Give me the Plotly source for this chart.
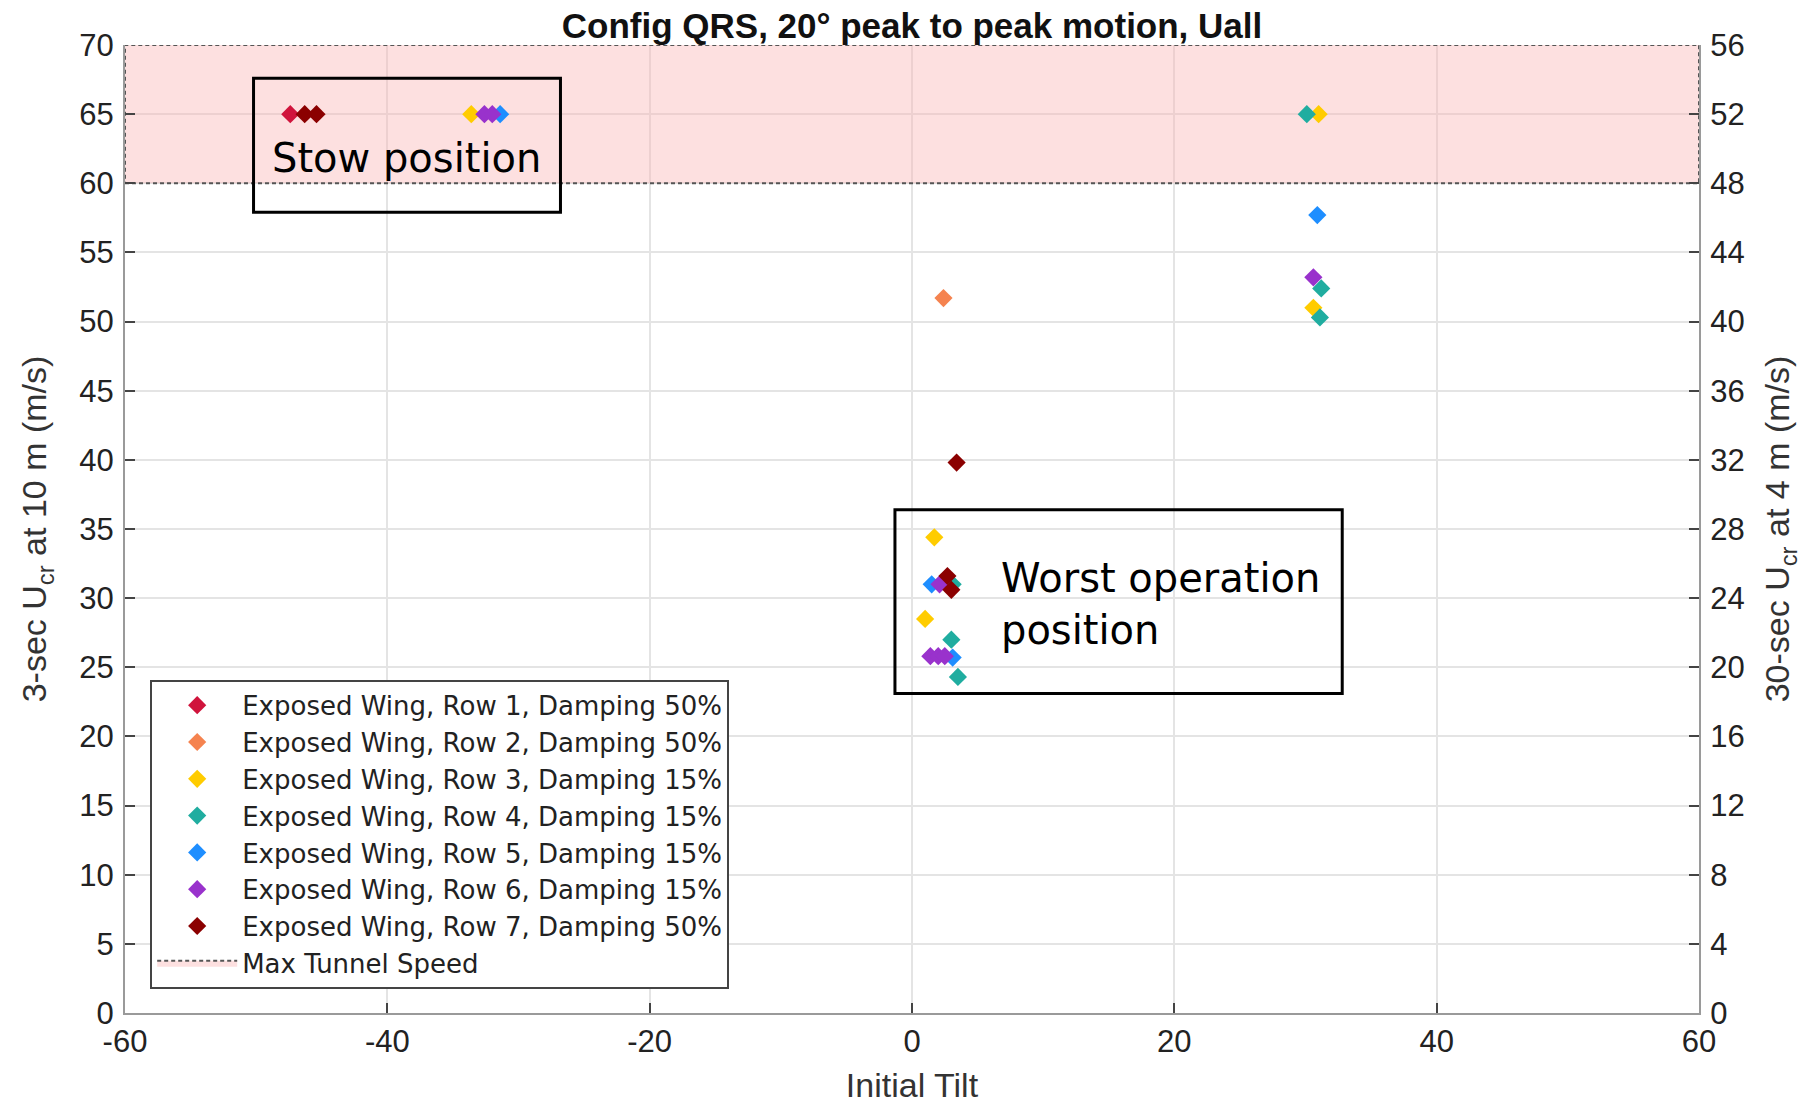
import plotly.graph_objects as go

# Critical-speed results per exposed-wing row: initial tilt (deg) and 3-sec U_cr at 10 m (m/s)
row_names = [
    "Exposed Wing, Row 1, Damping 50%",
    "Exposed Wing, Row 2, Damping 50%",
    "Exposed Wing, Row 3, Damping 15%",
    "Exposed Wing, Row 4, Damping 15%",
    "Exposed Wing, Row 5, Damping 15%",
    "Exposed Wing, Row 6, Damping 15%",
    "Exposed Wing, Row 7, Damping 50%",
]
row_colors = ["#D0143C", "#F5834F", "#FFCC00", "#20ADA0", "#1E8EFF", "#9932CC", "#8B0000"]

row1_tilt = [-47.4, 2.7]
row1_ucr = [65.0, 31.2]
row2_tilt = [2.4]
row2_ucr = [51.7]
row3_tilt = [-33.6, 31.0, 30.6, 1.7, 1.0]
row3_ucr = [65.0, 65.0, 51.0, 34.4, 28.5]
row4_tilt = [30.1, 31.2, 31.1, 3.1, 3.0, 3.5]
row4_ucr = [65.0, 52.4, 50.3, 31.0, 27.0, 24.3]
row5_tilt = [-31.4, 30.9, 1.5, 3.1]
row5_ucr = [65.0, 57.7, 31.0, 25.7]
row6_tilt = [-32.6, -32.0, 30.6, 2.1, 1.4, 2.0, 2.5]
row6_ucr = [65.0, 65.0, 53.2, 31.0, 25.8, 25.8, 25.8]
row7_tilt = [-46.3, -45.4, 3.4, 2.7, 3.0]
row7_ucr = [65.0, 65.0, 39.8, 31.6, 30.6]

tilts = [row1_tilt, row2_tilt, row3_tilt, row4_tilt, row5_tilt, row6_tilt, row7_tilt]
ucrs = [row1_ucr, row2_ucr, row3_ucr, row4_ucr, row5_ucr, row6_ucr, row7_ucr]

# Wind-tunnel speed limit band (left-axis units)
tunnel_low = 60
tunnel_high = 70
tilt_min, tilt_max = -60, 60

x_ticks = [-60, -40, -20, 0, 20, 40, 60]
y_left_ticks = list(range(0, 71, 5))
y_right_ticks = list(range(0, 57, 4))

sans = "Liberation Sans, Arial, sans-serif"
tick_font = dict(family=sans, size=31, color="#222222")
axis_title_font = dict(family=sans, size=34, color="#333333")
box_font = dict(family="DejaVu Sans, Verdana, sans-serif", size=40, color="#000000")

fig = go.Figure()

# Max tunnel speed band
fig.add_trace(go.Scatter(
    x=[tilt_min, tilt_max, tilt_max, tilt_min, tilt_min],
    y=[tunnel_low, tunnel_low, tunnel_high, tunnel_high, tunnel_low],
    mode="lines",
    fill="toself",
    fillcolor="rgba(250,180,180,0.42)",
    line=dict(color="#555555", width=2, dash="4px,3px"),
    name="Max Tunnel Speed",
    legendrank=2000,
    hoverinfo="skip",
))

for i in range(len(row_names)):
    fig.add_trace(go.Scatter(
        x=tilts[i], y=ucrs[i],
        mode="markers",
        marker=dict(symbol="diamond", size=14, color=row_colors[i], line=dict(width=0)),
        name=row_names[i],
    ))

# Invisible trace so the right-hand (30-sec at 4 m) axis is drawn
fig.add_trace(go.Scatter(x=[tilt_min], y=[0], yaxis="y2", mode="markers",
                         marker=dict(opacity=0), showlegend=False, hoverinfo="skip"))

fig.update_layout(
    width=1811, height=1104,
    margin=dict(l=125, r=112, t=45, b=91),
    paper_bgcolor="white",
    plot_bgcolor="white",
    title=dict(
        text="<b>Config QRS, 20° peak to peak motion, Uall</b>",
        font=dict(family=sans, size=35, color="#111111"),
        x=0.5036, xanchor="center", y=0.977, yanchor="middle",
    ),
    xaxis=dict(
        range=[tilt_min, tilt_max], tickvals=x_ticks, ticktext=[str(v) for v in x_ticks],
        ticks="inside", ticklen=10, tickwidth=2, tickcolor="#444444",
        showline=True, linecolor="#9a9a9a", linewidth=2,
        showgrid=True, gridcolor="#e4e4e4", gridwidth=1.5, zeroline=False,
        tickfont=tick_font, automargin=False,
        title=dict(text="Initial Tilt", font=axis_title_font, standoff=20),
    ),
    yaxis=dict(
        range=[0, 70], tickvals=y_left_ticks,
        ticks="inside", ticklen=10, tickwidth=2, tickcolor="#444444",
        showline=True, linecolor="#9a9a9a", linewidth=2,
        showgrid=True, gridcolor="#e4e4e4", gridwidth=1.5, zeroline=False,
        tickfont=tick_font, ticklabelstandoff=3, automargin=False,
        title=dict(text="3-sec U<sub>cr</sub> at 10 m (m/s)", font=axis_title_font, standoff=22),
    ),
    yaxis2=dict(
        range=[0, 56], tickvals=y_right_ticks, overlaying="y", side="right",
        ticks="inside", ticklen=10, tickwidth=2, tickcolor="#444444",
        showline=True, linecolor="#9a9a9a", linewidth=2,
        showgrid=False, zeroline=False,
        tickfont=tick_font, ticklabelstandoff=3, automargin=False,
        title=dict(text="30-sec U<sub>cr</sub> at 4 m (m/s)", font=axis_title_font, standoff=22),
    ),
    legend=dict(
        x=0.016, y=0.025, xanchor="left", yanchor="bottom",
        bgcolor="white", bordercolor="#444444", borderwidth=2,
        font=dict(family="DejaVu Sans, Verdana, sans-serif", size=26, color="#222222"),
        itemwidth=80, tracegroupgap=0,
    ),
    showlegend=True,
)

# Labelled boxes around the two tilt regimes
fig.add_shape(type="rect", xref="x", yref="y", x0=-50.2, x1=-26.8, y0=57.9, y1=67.6,
              line=dict(color="black", width=3), fillcolor="rgba(0,0,0,0)")
fig.add_shape(type="rect", xref="x", yref="y", x0=-1.3, x1=32.8, y0=23.1, y1=36.4,
              line=dict(color="black", width=3), fillcolor="rgba(0,0,0,0)")

fig.add_annotation(x=-48.95, y=61.8, xref="x", yref="y", text="Stow position",
                   showarrow=False, xanchor="left", yanchor="middle", align="left", font=box_font)
fig.add_annotation(x=6.6, y=29.6, xref="x", yref="y", text="Worst operation<br>position",
                   showarrow=False, xanchor="left", yanchor="middle", align="left", font=box_font)

fig.write_html("out.html")
